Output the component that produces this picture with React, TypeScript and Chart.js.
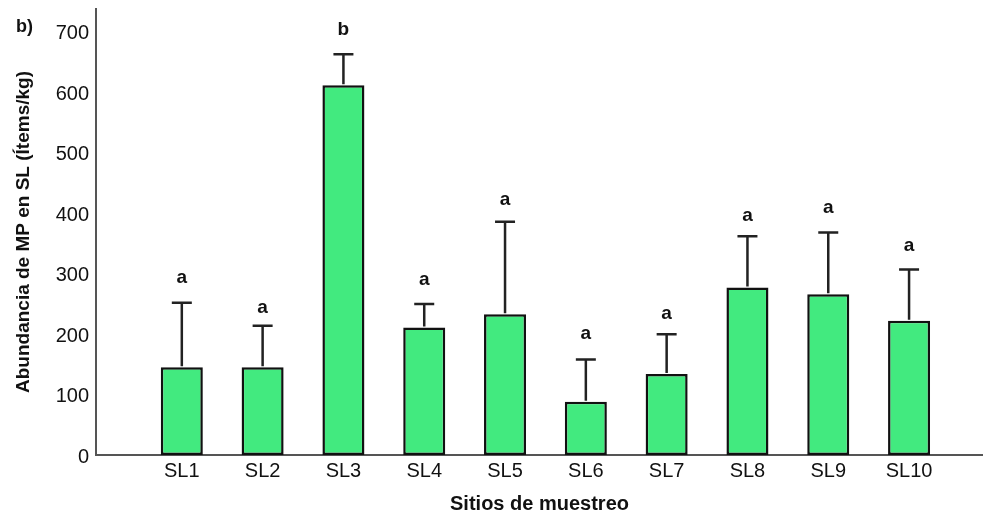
import React, { useEffect, useRef } from 'react';
import { Chart, registerables } from 'chart.js';

Chart.register(...registerables);

const categories = ['SL1', 'SL2', 'SL3', 'SL4', 'SL5', 'SL6', 'SL7', 'SL8', 'SL9', 'SL10'];
const means = [145, 145, 612, 211, 233, 88, 134, 277, 266, 222];
const errorTops = [252, 214, 663, 250, 386, 158, 200, 362, 368, 307];
const letters = ['a', 'a', 'b', 'a', 'a', 'a', 'a', 'a', 'a', 'a'];
const letterPos = [290, 241, 701, 288, 420, 198, 232, 393, 406, 343];
const yTicks = [0, 100, 200, 300, 400, 500, 600, 700];

const FONT = '"Liberation Sans", Arial, sans-serif';

const annotate = {
  id: 'annotate',
  afterDatasetsDraw(chart: any) {
    const { ctx, scales } = chart;
    const x = scales.x;
    const y = scales.y;
    ctx.save();
    ctx.strokeStyle = '#222';
    ctx.lineWidth = 2.5;
    means.forEach((m, i) => {
      const px = x.getPixelForValue(i + 1);
      const y0 = y.getPixelForValue(m);
      const y1 = y.getPixelForValue(errorTops[i]);
      ctx.beginPath();
      ctx.moveTo(px, y0 - 1);
      ctx.lineTo(px, y1);
      ctx.moveTo(px - 10, y1);
      ctx.lineTo(px + 10, y1);
      ctx.stroke();
      ctx.fillStyle = '#111';
      ctx.font = `bold 19px ${FONT}`;
      ctx.textAlign = 'center';
      ctx.textBaseline = 'middle';
      ctx.fillText(letters[i], px, y.getPixelForValue(letterPos[i]) - 1.5);
    });
    ctx.font = `bold 18px ${FONT}`;
    ctx.textAlign = 'left';
    ctx.textBaseline = 'middle';
    ctx.fillStyle = '#111';
    ctx.fillText('b)', 16, 27);
    ctx.restore();
  },
};

export default function App() {
  const ref = useRef<HTMLCanvasElement | null>(null);
  useEffect(() => {
    if (!ref.current) return;
    const chart = new Chart(ref.current, {
      type: 'bar',
      data: {
        datasets: [
          {
            data: categories.map((c, i) => ({ x: i + 1, y: means[i] })),
            backgroundColor: '#42ea7f',
            borderColor: '#111',
            borderWidth: 2.5,
            borderSkipped: false,
            barPercentage: 0.52,
            categoryPercentage: 1,
          },
        ],
      },
      options: {
        animation: false,
        responsive: true,
        maintainAspectRatio: false,
        layout: { padding: { top: 9, left: 0, right: 0, bottom: 0 } },
        plugins: { legend: { display: false }, tooltip: { enabled: false } },
        scales: {
          x: {
            type: 'linear',
            offset: false,
            min: -0.062,
            max: 10.915,
            grid: { display: false, drawTicks: false, offset: false },
            border: { display: true, color: '#555', width: 2 },
            afterBuildTicks: (s: any) => {
              s.ticks = categories.map((c, i) => ({ value: i + 1 }));
            },
            afterFit: (s: any) => {
              s.height = 59;
              s.paddingLeft = 0;
              s.paddingRight = 0;
            },
            ticks: {
              autoSkip: false,
              maxRotation: 0,
              padding: 4,
              color: '#111',
              font: { family: FONT, size: 20 },
              callback: (v: any) => categories[Math.round(v) - 1] ?? '',
            },
            title: {
              display: true,
              text: 'Sitios de muestreo',
              color: '#111',
              font: { family: FONT, size: 20, weight: 'bold', lineHeight: 1 },
              padding: 0,
            },
          },
          y: {
            min: 0,
            max: 738,
            grid: { display: false, drawTicks: false },
            border: { display: true, color: '#555', width: 2 },
            afterBuildTicks: (s: any) => {
              s.ticks = yTicks.map((v) => ({ value: v }));
            },
            afterFit: (s: any) => {
              s.width = 96;
              s.paddingTop = 0;
              s.paddingBottom = 0;
            },
            ticks: {
              padding: 7,
              labelOffset: 2,
              color: '#111',
              font: { family: FONT, size: 20 },
            },
            title: {
              display: true,
              text: 'Abundancia de MP en SL (Ítems/kg)',
              color: '#111',
              font: { family: FONT, size: 19, weight: 'bold', lineHeight: 1 },
              padding: { top: 14, bottom: 0 },
            },
          },
        },
      },
      plugins: [annotate],
    } as any);
    return () => chart.destroy();
  }, []);
  return (
    <div style={{ position: 'absolute', left: 0, top: 0, width: 983, height: 514, background: '#fff' }}>
      <canvas ref={ref} />
    </div>
  );
}
